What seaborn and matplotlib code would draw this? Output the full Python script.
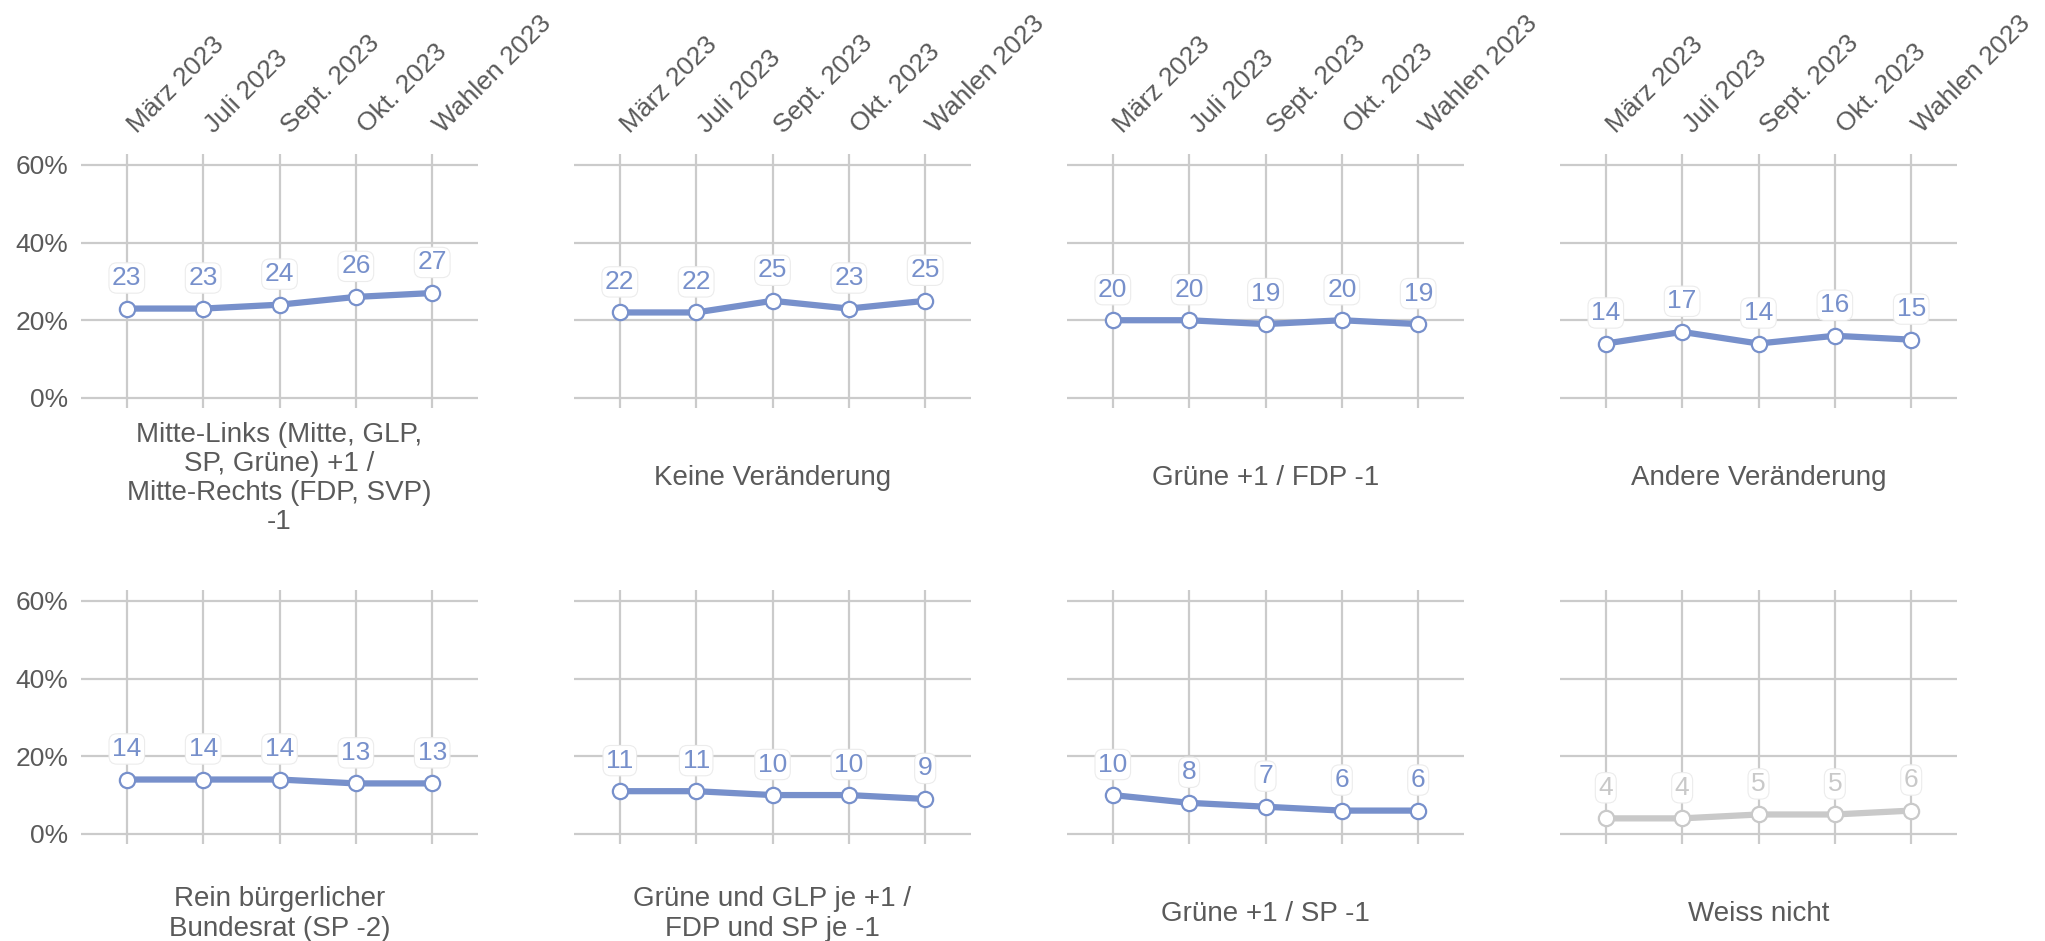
import matplotlib
matplotlib.use("Agg")
import matplotlib.pyplot as plt
import matplotlib.transforms as mtransforms
import pandas as pd
import seaborn as sns

# survey waves (x axis)
waves = ["März 2023", "Juli 2023", "Sept. 2023", "Okt. 2023", "Wahlen 2023"]

# one panel per answer
titles = [
    "Mitte-Links (Mitte, GLP,\nSP, Grüne) +1 /\nMitte-Rechts (FDP, SVP)\n-1",
    "Keine Veränderung",
    "Grüne +1 / FDP -1",
    "Andere Veränderung",
    "Rein bürgerlicher\nBundesrat (SP -2)",
    "Grüne und GLP je +1 /\nFDP und SP je -1",
    "Grüne +1 / SP -1",
    "Weiss nicht",
]

mitte_links = [23, 23, 24, 26, 27]
keine = [22, 22, 25, 23, 25]
gruene_fdp = [20, 20, 19, 20, 19]
andere = [14, 17, 14, 16, 15]
rein_buergerlich = [14, 14, 14, 13, 13]
gruene_glp = [11, 11, 10, 10, 9]
gruene_sp = [10, 8, 7, 6, 6]
weiss_nicht = [4, 4, 5, 5, 6]

series = [mitte_links, keine, gruene_fdp, andere,
          rein_buergerlich, gruene_glp, gruene_sp, weiss_nicht]

y_ticks = [0, 20, 40, 60]

BLUE = "#7790cb"
GREY = "#c9c9c9"
GRID = "#cbcbcb"
TEXT = "#5a5a5a"

sns.set_style("white")
plt.rcParams["font.family"] = ["Liberation Sans", "DejaVu Sans"]

rows = []
for t, vals in zip(titles, series):
    for w, v in zip(waves, vals):
        rows.append({"panel": t, "wave": w, "value": v})
df = pd.DataFrame(rows)

W, H = 2045, 941
fig = plt.figure(figsize=(W / 100, H / 100), dpi=100)

# pixel layout of the panels
lefts = [81, 574, 1067, 1560]
pw = 397
tops = [154, 590]
ph = 254

for i, t in enumerate(titles):
    r, c = divmod(i, 4)
    ax = fig.add_axes([lefts[c] / W, 1 - (tops[r] + ph) / H, pw / W, ph / H])
    sub = df[df["panel"] == t].copy()
    sub["x"] = range(len(sub))
    color = GREY if t == "Weiss nicht" else BLUE

    ax.set_xlim(-0.6, 4.6)
    ax.set_ylim(-2.6, 62.8)
    ax.set_yticks(y_ticks)
    ax.set_xticks(range(len(waves)))
    ax.grid(True, color=GRID, lw=1.6)
    ax.set_axisbelow(True)
    for s in ax.spines.values():
        s.set_visible(False)

    sns.lineplot(data=sub, x="x", y="value", ax=ax, color=color, lw=4.5,
                 marker="o", markersize=11, markerfacecolor="white",
                 markeredgecolor=color, markeredgewidth=1.6, zorder=3)

    for x, v in zip(sub["x"], sub["value"]):
        ax.annotate(str(v), (x, v), xytext=(0, 22), textcoords="offset points",
                    ha="center", va="center", fontsize=19, color=color, zorder=4,
                    bbox=dict(boxstyle="round,pad=0.12,rounding_size=0.3",
                              fc="white", ec="#ececec", lw=0.8))

    ax.set_xlabel("")
    ax.set_ylabel("")
    ax.tick_params(length=0)
    ax.set_xticklabels([])
    if c == 0:
        ax.set_yticklabels([f"{v}%" for v in y_ticks], fontsize=19, color=TEXT)
        ax.tick_params(axis="y", pad=9)
    else:
        ax.set_yticklabels([])

    if r == 0:
        # rotated wave names above the panel
        trans = mtransforms.blended_transform_factory(ax.transData, ax.transAxes)
        for x, w in enumerate(waves):
            ax.text(x + 0.14, 1 + 20 / ph, w, transform=trans, rotation=45,
                    ha="left", va="baseline", rotation_mode="anchor",
                    fontsize=19, color=TEXT)

    ax.text(0.5, -70 / ph, t, transform=ax.transAxes, ha="center", va="center",
            fontsize=20, color=TEXT, linespacing=1.15, multialignment="center")

fig.savefig("out.png", dpi=100, facecolor="white")
